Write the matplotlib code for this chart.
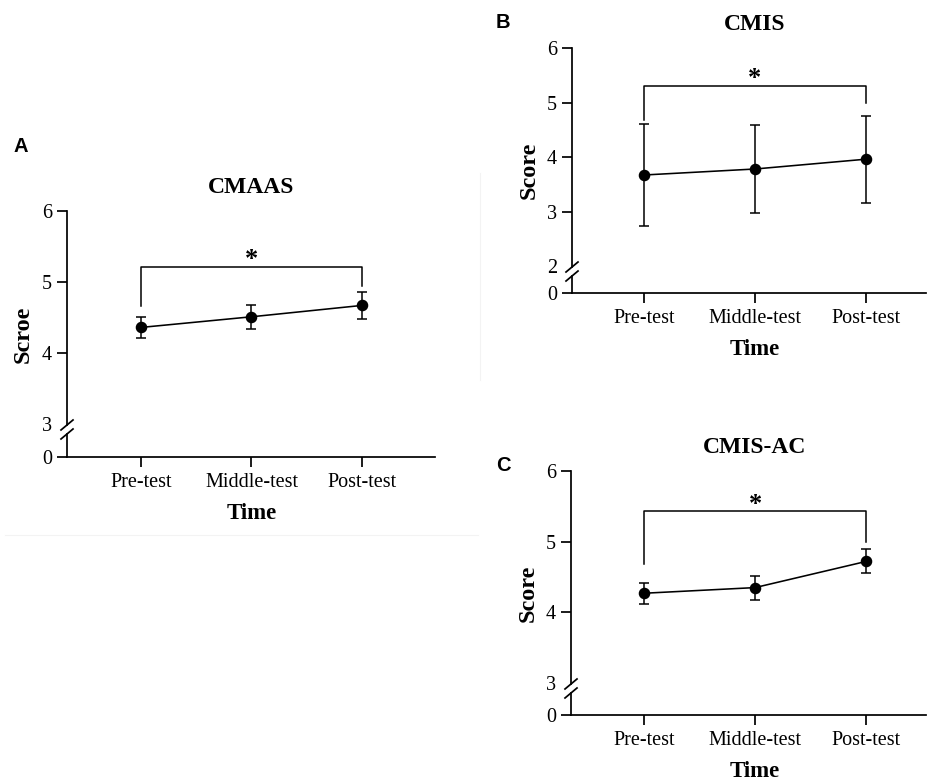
import matplotlib.pyplot as plt
from matplotlib.lines import Line2D
from matplotlib.transforms import blended_transform_factory

# data
time_points = ['Pre-test', 'Middle-test', 'Post-test']
x_pos = [1, 2, 3]

cmaas_mean = [4.36, 4.51, 4.67]
cmaas_sd = [0.15, 0.17, 0.19]
cmis_mean = [3.67, 3.78, 3.96]
cmis_sd = [0.93, 0.81, 0.80]
cmis_ac_mean = [4.27, 4.35, 4.72]
cmis_ac_sd = [0.15, 0.17, 0.17]

# significance bracket: left leg end, bar height, right leg end
cmaas_bracket = [4.66, 5.21, 4.95]
cmis_bracket = [4.68, 5.30, 5.00]
cmis_ac_bracket = [4.68, 5.43, 4.99]

plt.rcParams['font.family'] = ['Liberation Serif', 'DejaVu Serif']

W, H = 928, 783
fig = plt.figure(figsize=(W / 100, H / 100), dpi=100)


def make_ax(left, top, right, bottom):
    return fig.add_axes([left / W, 1 - bottom / H, (right - left) / W, (bottom - top) / H])


def draw_panel(ax, mean, sd, bracket, ylabel, title, low_tick, zero_pos, xlim):
    lw = 1.25
    ax.errorbar(x_pos, mean, yerr=sd, color='black', lw=1.15, elinewidth=1.1,
                capsize=3.4, capthick=1.1, marker='o', ms=7.3, zorder=3)

    # bracket + star
    ax.plot([1, 1, 3, 3], [bracket[0], bracket[1], bracket[1], bracket[2]],
            color='black', lw=1.1)
    ax.annotate('*', xy=(2, bracket[1]), xytext=(0, 0.5), textcoords='offset points',
                ha='center', va='baseline', fontsize=19, fontweight='bold')

    ax.set_xlim(*xlim)
    ax.set_ylim(zero_pos, 6)

    for s in ['top', 'right', 'left']:
        ax.spines[s].set_visible(False)
    ax.spines['bottom'].set_linewidth(lw)

    ax.set_yticks([zero_pos] + list(range(low_tick, 7)))
    ax.set_yticklabels(['0'] + [str(v) for v in range(low_tick, 7)])
    ax.yaxis.get_major_ticks()[1].tick1line.set_visible(False)
    ax.set_xticks(x_pos)
    ax.set_xticklabels(time_points)
    ax.tick_params(axis='both', direction='out', length=7.3, width=lw, labelsize=14.5)
    ax.tick_params(axis='y', pad=3.4)
    ax.tick_params(axis='x', pad=4)

    # broken left axis
    bb = ax.get_position()
    ppu = bb.height * H / (6 - zero_pos)
    up = low_tick - 1 / ppu
    dn = low_tick - 10 / ppu
    trans = blended_transform_factory(ax.transAxes, ax.transData)
    ax.plot([0, 0], [zero_pos, dn], transform=trans, color='black', lw=lw, clip_on=False)
    ax.plot([0, 0], [up, 6], transform=trans, color='black', lw=lw, clip_on=False)
    dx = 6 / (bb.width * W)
    dy = 5 / ppu
    for yc in (up, dn):
        ax.plot([-dx, dx], [yc - dy, yc + dy], transform=trans, color='black',
                lw=lw, clip_on=False)

    tx = blended_transform_factory(ax.transData, ax.transAxes)
    ax.text(2, 1.095, title, transform=tx, ha='center', va='center',
            fontsize=17, fontweight='bold')
    ax.set_xlabel('Time', fontsize=16.5, fontweight='bold', va='center')
    ax.xaxis.set_label_coords(2, -0.23, transform=tx)
    ax.set_ylabel(ylabel, fontsize=17.5, fontweight='bold', va='center')
    ax.yaxis.set_label_coords(-0.12, 0.5)


ax_a = make_ax(67, 211, 435, 457)
draw_panel(ax_a, cmaas_mean, cmaas_sd, cmaas_bracket, 'Scroe', 'CMAAS', 3, 2.535, (0.330, 3.661))

ax_b = make_ax(572, 48, 926, 293)
draw_panel(ax_b, cmis_mean, cmis_sd, cmis_bracket, 'Score', 'CMIS', 2, 1.505, (0.351, 3.541))

ax_c = make_ax(571, 471, 926, 715)
draw_panel(ax_c, cmis_ac_mean, cmis_ac_sd, cmis_ac_bracket, 'Score', 'CMIS-AC', 3, 2.547, (0.342, 3.540))

# panel letters
for letter, (px, py) in zip(['A', 'B', 'C'], [(20.5, 147), (503, 23), (503, 466)]):
    fig.text(px / W, 1 - py / H, letter, family='Liberation Sans', fontweight='bold',
             fontsize=14.5, ha='center', va='center')

# faint frame lines left over from the source figure
fig.add_artist(Line2D([480 / W, 480 / W], [1 - 173 / H, 1 - 380 / H], color='#f3f3f3', lw=0.8))
fig.add_artist(Line2D([5 / W, 478 / W], [1 - 535 / H, 1 - 535 / H], color='#f3f3f3', lw=0.8))

fig.savefig('out.png', dpi=100)
